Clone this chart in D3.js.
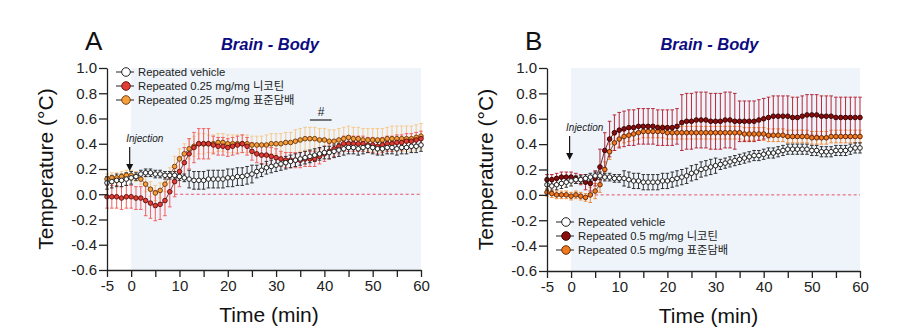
<!DOCTYPE html>
<html>
<head>
<meta charset="utf-8">
<script src="https://cdn.jsdelivr.net/npm/d3@7"></script>
<style>
  body { margin: 0; background: #fff; }
  text { font-family: "Liberation Sans", Arial, "Noto Sans CJK KR", sans-serif; }
</style>
</head>
<body>
<svg id="chart"></svg>
<script>
const width = 902;
const height = 334;

// Time points (min), one sample per minute
const time = d3.range(-5, 61);
const yTicks = [-0.6, -0.4, -0.2, 0.0, 0.2, 0.4, 0.6, 0.8, 1.0];
const xTicks = d3.range(-5, 61, 5);

// Panel A values (mean, SEM)
const aVehicle = [0.09,0.10,0.11,0.11,0.12,0.13, 0.14,0.16,0.17,0.17,0.16,0.16,0.15,0.15,0.15,0.14,
  0.13,0.12,0.11,0.11,0.11,0.12,0.12,0.12,0.12,0.13, 0.13,0.14,0.14,0.15,0.16,0.18,0.19,0.21,0.22,0.23,
  0.24,0.25,0.26,0.27,0.28,0.29,0.30,0.31,0.32,0.33, 0.33,0.34,0.35,0.36,0.37,0.37,0.36,0.37,0.38,0.37,
  0.36,0.36,0.37,0.37,0.36,0.37,0.37,0.38,0.38,0.39];
const aVehicleErr = [0.05,0.05,0.05,0.05,0.05,0.05, 0.03,0.03,0.03,0.03,0.03,0.03,0.03,0.03,0.03,0.03,
  0.03,0.07,0.07,0.07,0.07,0.07,0.07,0.07,0.07,0.07, 0.07,0.07,0.07,0.07,0.07,0.05,0.05,0.05,0.05,0.05,
  0.05,0.05,0.05,0.05,0.05,0.05,0.05,0.05,0.05,0.05, 0.05,0.05,0.05,0.05,0.05,0.05,0.05,0.05,0.05,0.05,
  0.05,0.05,0.05,0.05,0.05,0.05,0.05,0.05,0.05,0.05];
const aNicotine = [-0.02,-0.02,-0.02,-0.03,-0.02,-0.02, -0.03,-0.03,-0.05,-0.07,-0.09,-0.08,-0.05,0.02,0.10,0.18,
  0.25,0.32,0.37,0.40,0.40,0.40,0.39,0.38,0.38,0.37, 0.38,0.39,0.40,0.38,0.34,0.32,0.31,0.31,0.30,0.29,
  0.28,0.27,0.27,0.27,0.27,0.28,0.28,0.28,0.30,0.32, 0.34,0.36,0.38,0.40,0.40,0.40,0.40,0.40,0.39,0.39,
  0.38,0.39,0.40,0.40,0.41,0.41,0.42,0.42,0.43,0.44];
const aNicotineErr = [0.09,0.09,0.09,0.09,0.09,0.09, 0.09,0.09,0.12,0.12,0.12,0.12,0.12,0.12,0.12,0.12,
  0.12,0.12,0.12,0.12,0.12,0.12,0.07,0.07,0.07,0.07, 0.07,0.07,0.07,0.07,0.07,0.07,0.07,0.07,0.07,0.07,
  0.06,0.06,0.06,0.06,0.06,0.06,0.06,0.06,0.06,0.06, 0.06,0.06,0.06,0.06,0.06,0.06,0.06,0.06,0.06,0.06,
  0.06,0.06,0.06,0.06,0.06,0.06,0.06,0.06,0.06,0.06];
const aCigarette = [0.12,0.13,0.13,0.14,0.15,0.15, 0.14,0.12,0.08,0.04,0.01,0.03,0.08,0.15,0.22,0.28,
  0.32,0.36,0.38,0.40,0.40,0.40,0.40,0.41,0.41,0.40, 0.40,0.40,0.40,0.40,0.39,0.39,0.39,0.39,0.40,0.40,
  0.40,0.41,0.41,0.42,0.43,0.44,0.44,0.44,0.43,0.43, 0.42,0.42,0.43,0.44,0.45,0.44,0.44,0.43,0.43,0.43,
  0.43,0.43,0.44,0.44,0.44,0.44,0.44,0.44,0.45,0.46];
const aCigaretteErr = [0.04,0.04,0.04,0.04,0.04,0.04, 0.04,0.04,0.06,0.06,0.06,0.06,0.06,0.06,0.08,0.08,
  0.08,0.08,0.08,0.08,0.08,0.07,0.07,0.07,0.07,0.07, 0.07,0.07,0.07,0.07,0.07,0.07,0.07,0.08,0.08,0.08,
  0.08,0.08,0.08,0.09,0.09,0.09,0.09,0.09,0.09,0.09, 0.09,0.09,0.09,0.09,0.09,0.09,0.09,0.09,0.09,0.09,
  0.09,0.09,0.09,0.10,0.10,0.10,0.10,0.10,0.10,0.10];

// Panel B values (mean, SEM)
const bVehicle = [0.08,0.07,0.08,0.09,0.10,0.11, 0.12,0.12,0.13,0.14,0.15,0.15,0.14,0.14,0.13,0.13,
  0.13,0.12,0.11,0.11,0.10,0.10,0.10,0.10,0.11,0.11, 0.12,0.13,0.14,0.15,0.17,0.18,0.20,0.21,0.22,0.23,
  0.24,0.25,0.26,0.27,0.28,0.29,0.30,0.31,0.31,0.32, 0.33,0.33,0.34,0.35,0.36,0.36,0.36,0.36,0.36,0.35,
  0.35,0.34,0.34,0.34,0.35,0.35,0.35,0.36,0.37,0.37];
const bVehicleErr = [0.04,0.04,0.04,0.04,0.04,0.04, 0.03,0.03,0.03,0.03,0.03,0.03,0.03,0.03,0.03,0.03,
  0.06,0.06,0.06,0.06,0.06,0.06,0.06,0.06,0.06,0.06, 0.06,0.06,0.06,0.06,0.06,0.06,0.06,0.06,0.06,0.06,
  0.04,0.04,0.04,0.04,0.04,0.04,0.04,0.04,0.04,0.04, 0.04,0.04,0.04,0.04,0.04,0.04,0.04,0.04,0.04,0.04,
  0.04,0.04,0.04,0.04,0.04,0.04,0.04,0.04,0.04,0.04];
const bNicotine = [0.12,0.12,0.13,0.14,0.14,0.14, 0.13,0.12,0.10,0.09,0.13,0.22,0.35,0.44,0.49,0.51,
  0.52,0.53,0.53,0.54,0.54,0.54,0.54,0.53,0.53,0.53, 0.53,0.54,0.57,0.58,0.58,0.59,0.59,0.59,0.58,0.58,
  0.58,0.59,0.59,0.58,0.58,0.58,0.58,0.58,0.59,0.60, 0.61,0.62,0.62,0.62,0.62,0.61,0.61,0.62,0.63,0.63,
  0.63,0.62,0.62,0.62,0.61,0.61,0.61,0.61,0.61,0.61];
const bNicotineErr = [0.04,0.04,0.04,0.04,0.04,0.04, 0.04,0.04,0.06,0.06,0.06,0.14,0.14,0.14,0.14,0.14,
  0.14,0.14,0.14,0.14,0.14,0.14,0.14,0.14,0.14,0.14, 0.14,0.14,0.22,0.22,0.22,0.22,0.22,0.22,0.22,0.22,
  0.22,0.22,0.22,0.22,0.16,0.16,0.16,0.16,0.16,0.16, 0.16,0.16,0.16,0.16,0.16,0.16,0.16,0.16,0.16,0.16,
  0.16,0.16,0.16,0.16,0.16,0.16,0.16,0.16,0.16,0.16];
const bCigarette = [0.02,0.01,0.00,0.00,0.00,-0.01, 0.00,-0.01,-0.02,0.00,0.03,0.08,0.20,0.34,0.41,0.44,
  0.46,0.47,0.48,0.49,0.50,0.50,0.50,0.50,0.50,0.49, 0.49,0.49,0.49,0.49,0.49,0.49,0.49,0.49,0.49,0.49,
  0.49,0.49,0.49,0.49,0.49,0.48,0.48,0.48,0.48,0.48, 0.47,0.47,0.47,0.47,0.46,0.46,0.46,0.46,0.46,0.45,
  0.45,0.45,0.45,0.46,0.46,0.46,0.46,0.46,0.46,0.46];
const bCigaretteErr = [0.03,0.03,0.03,0.03,0.03,0.03, 0.03,0.03,0.03,0.06,0.06,0.06,0.06,0.06,0.06,0.06,
  0.05,0.05,0.05,0.05,0.05,0.05,0.05,0.05,0.05,0.05, 0.05,0.05,0.05,0.05,0.05,0.05,0.05,0.05,0.05,0.05,
  0.05,0.05,0.05,0.05,0.05,0.05,0.05,0.05,0.05,0.05, 0.05,0.05,0.05,0.05,0.05,0.05,0.05,0.05,0.05,0.05,
  0.05,0.05,0.05,0.05,0.05,0.05,0.05,0.05,0.05,0.05];

const legendA = ['Repeated vehicle', 'Repeated 0.25 mg/mg 니코틴', 'Repeated 0.25 mg/mg 표준담배'];
const legendB = ['Repeated vehicle', 'Repeated 0.5 mg/mg 니코틴', 'Repeated 0.5 mg/mg 표준담배'];

const svg = d3.select('#chart')
  .attr('width', width)
  .attr('height', height);

function drawPanel(p) {
  const x = d3.scaleLinear().domain([-5, 60]).range([p.left, p.right]);
  const y = d3.scaleLinear().domain([-0.6, 1.0]).range([p.bottom, p.top]);
  const g = svg.append('g');

  // shaded post-injection period
  g.append('rect')
    .attr('x', x(0)).attr('y', y(1.0))
    .attr('width', x(60) - x(0)).attr('height', y(-0.6) - y(1.0))
    .attr('fill', '#eef4fa');

  // zero reference line
  g.append('line')
    .attr('x1', x(p.dashFrom)).attr('x2', x(60))
    .attr('y1', y(0)).attr('y2', y(0))
    .attr('stroke', '#e8506a').attr('stroke-width', 1)
    .attr('stroke-dasharray', '3,2.5');

  // error bars
  p.series.forEach((s) => {
    const eb = g.append('g').attr('stroke', s.err).attr('stroke-width', 1);
    time.forEach((t, i) => {
      const cx = x(t);
      const y1 = y(s.values[i] + s.sem[i]);
      const y2 = y(s.values[i] - s.sem[i]);
      eb.append('line').attr('x1', cx).attr('x2', cx).attr('y1', y1).attr('y2', y2);
      eb.append('line').attr('x1', cx - 1.8).attr('x2', cx + 1.8).attr('y1', y1).attr('y2', y1);
      eb.append('line').attr('x1', cx - 1.8).attr('x2', cx + 1.8).attr('y1', y2).attr('y2', y2);
    });
  });

  // lines and markers
  const line = d3.line().x((d) => x(d[0])).y((d) => y(d[1]));
  p.series.forEach((s) => {
    const pts = time.map((t, i) => [t, s.values[i]]);
    g.append('path')
      .attr('d', line(pts))
      .attr('fill', 'none')
      .attr('stroke', s.stroke)
      .attr('stroke-width', 0.8);
    g.selectAll(null)
      .data(pts)
      .enter()
      .append('circle')
      .attr('cx', (d) => x(d[0]))
      .attr('cy', (d) => y(d[1]))
      .attr('r', 2.3)
      .attr('fill', s.fill)
      .attr('stroke', s.stroke)
      .attr('stroke-width', 1);
  });

  // axes
  const yAxis = g.append('g')
    .attr('transform', `translate(${p.left},0)`)
    .call(d3.axisLeft(y).tickValues(yTicks).tickSize(8).tickSizeOuter(0)
      .tickFormat((d) => d.toFixed(1)));
  const xAxis = g.append('g')
    .attr('transform', `translate(0,${p.bottom})`)
    .call(d3.axisBottom(x).tickValues(xTicks).tickSize(7).tickSizeOuter(0)
      .tickFormat((d) => (d % 10 === 0 || d === -5 ? d : '')));
  [yAxis, xAxis].forEach((a) => {
    a.selectAll('path, line').attr('stroke', '#222').attr('stroke-width', 1.3);
    a.selectAll('text').attr('fill', '#222').style('font-size', '15px');
  });
  yAxis.selectAll('text').attr('x', -10);
  xAxis.selectAll('text').attr('y', 10);

  // axis titles
  g.append('text')
    .attr('transform', `translate(${p.left - 54},${(p.top + p.bottom) / 2}) rotate(-90)`)
    .attr('text-anchor', 'middle')
    .attr('fill', '#111')
    .style('font-size', '21px')
    .text('Temperature (°C)');
  g.append('text')
    .attr('x', (p.left + p.right) / 2 + 5)
    .attr('y', p.bottom + 52)
    .attr('text-anchor', 'middle')
    .attr('fill', '#111')
    .style('font-size', '21px')
    .text('Time (min)');

  // panel letter and title
  g.append('text')
    .attr('x', p.left - 22).attr('y', 50)
    .attr('fill', '#111')
    .style('font-size', '26px')
    .text(p.letter);
  g.append('text')
    .attr('x', (p.left + p.right) / 2 + 6).attr('y', 50)
    .attr('text-anchor', 'middle')
    .attr('fill', '#0c0c80')
    .style('font-size', '16.5px')
    .style('font-weight', 'bold')
    .style('font-style', 'italic')
    .text('Brain - Body');

  // injection marker
  g.append('text')
    .attr('x', x(0) - 5).attr('y', p.injY)
    .attr('fill', '#222')
    .style('font-size', '10px')
    .style('font-style', 'italic')
    .text('Injection');
  g.append('line')
    .attr('x1', x(-0.3)).attr('x2', x(-0.3))
    .attr('y1', p.injY + 5).attr('y2', p.injY + 24)
    .attr('stroke', '#111').attr('stroke-width', 1.2);
  g.append('path')
    .attr('d', d3.line()([[x(-0.3) - 3.5, p.injY + 22], [x(-0.3) + 3.5, p.injY + 22], [x(-0.3), p.injY + 29]]))
    .attr('fill', '#111');

  // legend
  const leg = g.append('g');
  p.series.slice().reverse().forEach((s, i) => {
    const ly = p.legY + i * 14;
    leg.append('line')
      .attr('x1', p.legX - 10).attr('x2', p.legX + 8)
      .attr('y1', ly).attr('y2', ly)
      .attr('stroke', '#222').attr('stroke-width', 1);
    leg.append('circle')
      .attr('cx', p.legX).attr('cy', ly).attr('r', 4.3)
      .attr('fill', s.fill).attr('stroke', s.stroke).attr('stroke-width', 1);
    leg.append('text')
      .attr('x', p.legX + 12).attr('y', ly + 4)
      .attr('fill', '#222')
      .style('font-size', '11.3px')
      .text(p.labels[i]);
  });
  return { x, y, g };
}

const A = drawPanel({
  letter: 'A', left: 107, right: 421, top: 68, bottom: 270,
  dashFrom: 9, injY: 142, legX: 126, legY: 72, labels: legendA,
  series: [
    { values: aCigarette, sem: aCigaretteErr, fill: '#f5a03c', stroke: '#7a4010', err: '#f8c88a' },
    { values: aNicotine, sem: aNicotineErr, fill: '#e23c36', stroke: '#6a1410', err: '#f26060' },
    { values: aVehicle, sem: aVehicleErr, fill: '#ffffff', stroke: '#222', err: '#333' },
  ],
});

// significance mark in panel A
A.g.append('line')
  .attr('x1', A.x(37)).attr('x2', A.x(41.5))
  .attr('y1', 120).attr('y2', 120)
  .attr('stroke', '#222').attr('stroke-width', 1.2);
A.g.append('text')
  .attr('x', A.x(39.3)).attr('y', 116)
  .attr('text-anchor', 'middle')
  .attr('fill', '#222')
  .style('font-size', '12px')
  .text('#');

drawPanel({
  letter: 'B', left: 547, right: 860, top: 68, bottom: 271,
  dashFrom: 5, injY: 131, legX: 566, legY: 222, labels: legendB,
  series: [
    { values: bCigarette, sem: bCigaretteErr, fill: '#f07a20', stroke: '#6a2a08', err: '#f08a3a' },
    { values: bNicotine, sem: bNicotineErr, fill: '#8a0c0c', stroke: '#3a0404', err: '#b8283a' },
    { values: bVehicle, sem: bVehicleErr, fill: '#ffffff', stroke: '#222', err: '#333' },
  ],
});
</script>
</body>
</html>
